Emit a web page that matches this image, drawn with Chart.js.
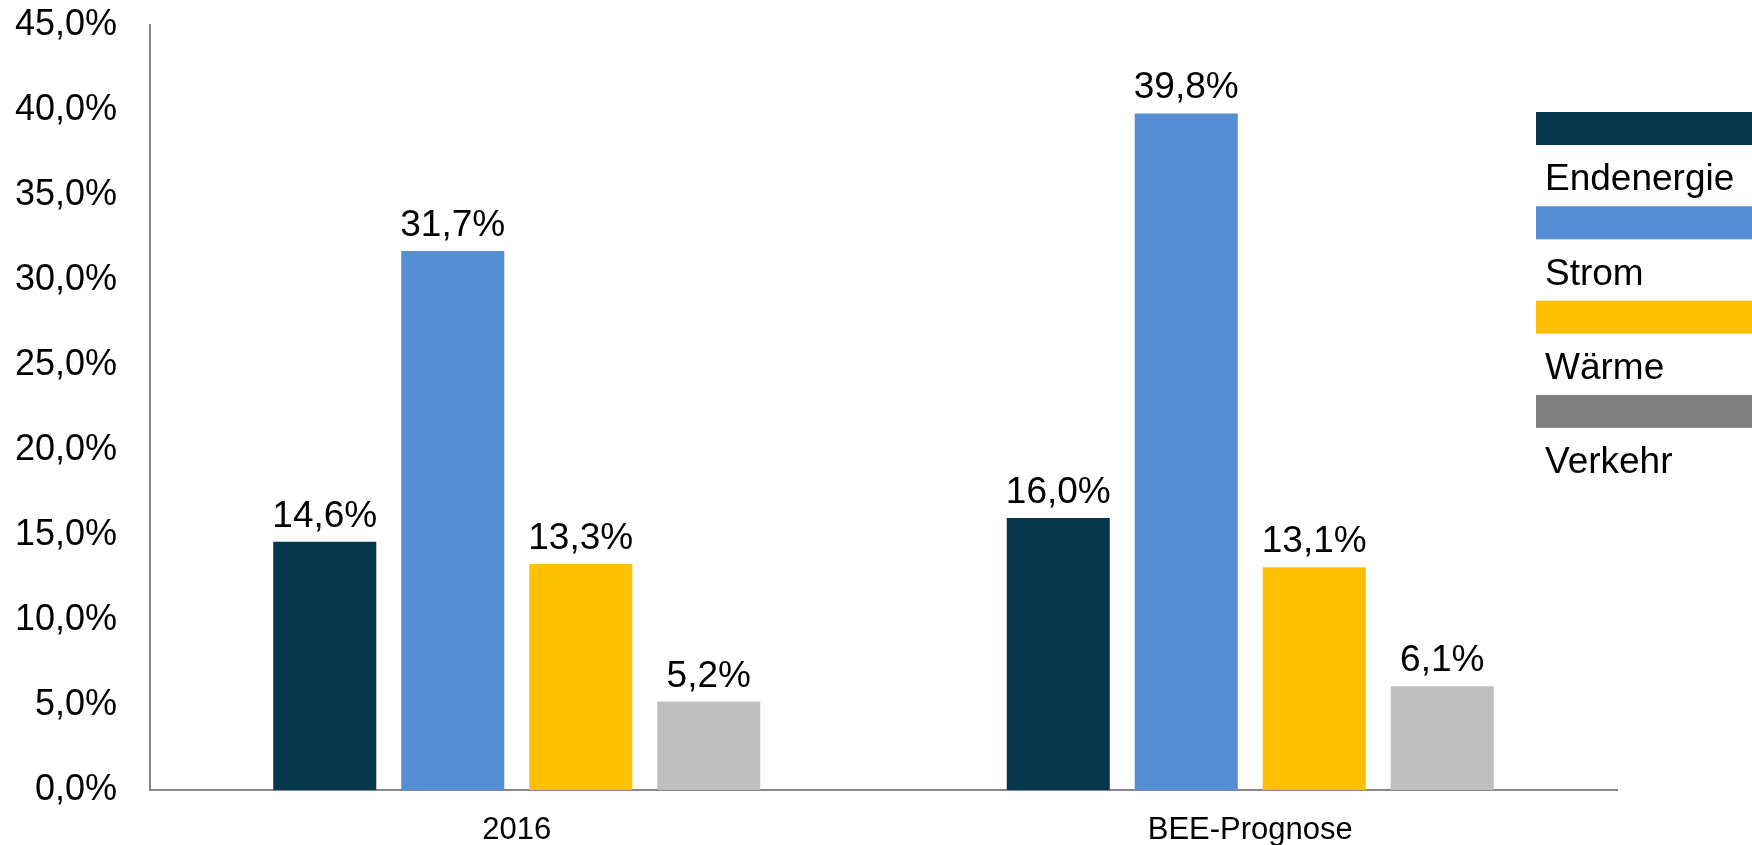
<!DOCTYPE html>
<html>
<head>
<meta charset="utf-8">
<script src="https://cdn.jsdelivr.net/npm/chart.js@4"></script>
<style>
  html, body { margin: 0; padding: 0; background: #fff; }
  #wrap { width: 1752px; height: 845px; position: relative; }
</style>
</head>
<body>
<div id="wrap"><canvas id="myChart" width="1752" height="845"></canvas></div>
<script>
// Categories and series
const categories = ['2016', 'BEE-Prognose'];
const seriesNames = ['Endenergie', 'Strom', 'Wärme', 'Verkehr'];
const endenergie = [14.6, 16.0];
const strom = [31.7, 39.8];
const waerme = [13.3, 13.1];
const verkehr = [5.2, 6.1];
const barColors = ['#05374D', '#558ED5', '#FFC000', '#BFBFBF'];
const legendColors = ['#05374D', '#558ED5', '#FFC000', '#808080'];

const FONT = '"Liberation Sans", Arial, sans-serif';

// Format a number like 14,6%
function pct(v) {
  return v.toFixed(1).replace('.', ',') + '%';
}

// Value labels above each bar
const valueLabels = {
  id: 'valueLabels',
  afterDatasetsDraw(chart) {
    const ctx = chart.ctx;
    ctx.save();
    ctx.font = '37px ' + FONT;
    ctx.fillStyle = '#000';
    ctx.textAlign = 'center';
    ctx.textBaseline = 'alphabetic';
    chart.data.datasets.forEach((ds, i) => {
      chart.getDatasetMeta(i).data.forEach((bar, j) => {
        ctx.fillText(pct(ds.data[j]), bar.x, bar.y - 15);
      });
    });
    ctx.restore();
  }
};

// Legend: wide colour block with the name underneath
const blockLegend = {
  id: 'blockLegend',
  afterDraw(chart) {
    const ctx = chart.ctx;
    ctx.save();
    ctx.font = '37px ' + FONT;
    ctx.textBaseline = 'middle';
    ctx.textAlign = 'left';
    seriesNames.forEach((name, i) => {
      const y = 112 + i * 94.3;
      ctx.fillStyle = legendColors[i];
      ctx.fillRect(1536, y, 216, 33);
      ctx.fillStyle = '#000';
      ctx.fillText(name, 1545, y + 68);
    });
    ctx.restore();
  }
};

const seriesData = [endenergie, strom, waerme, verkehr];

const ctx = document.getElementById('myChart').getContext('2d');
const chart = new Chart(ctx, {
  type: 'bar',
  data: {
    labels: categories,
    datasets: seriesNames.map((name, i) => ({
      label: name,
      data: seriesData[i],
      backgroundColor: barColors[i],
      borderWidth: 0,
      categoryPercentage: 0.698,
      barPercentage: 0.805,
    })),
  },
  options: {
    responsive: false,
    animation: false,
    layout: {
      padding: { top: 25, right: 135, left: 0, bottom: 0 },
    },
    plugins: {
      legend: { display: false },
      tooltip: { enabled: false },
    },
    scales: {
      x: {
        grid: { display: false, drawTicks: false },
        border: { display: true, color: '#878787', width: 2 },
        ticks: {
          color: '#000',
          font: { family: FONT, size: 31 },
          padding: 22,
        },
        afterFit(scale) {
          scale.height = 55;
          scale.paddingLeft = 0;
          scale.paddingRight = 0;
        },
      },
      y: {
        min: 0,
        max: 45,
        grid: { display: false, drawTicks: false },
        border: { display: true, color: '#878787', width: 2 },
        ticks: {
          stepSize: 5,
          color: '#000',
          font: { family: FONT, size: 36 },
          padding: 33,
          callback: v => pct(v),
        },
        afterFit(scale) {
          scale.width = 150;
          scale.paddingTop = 0;
          scale.paddingBottom = 0;
        },
      },
    },
  },
  plugins: [valueLabels, blockLegend],
});
</script>
</body>
</html>
